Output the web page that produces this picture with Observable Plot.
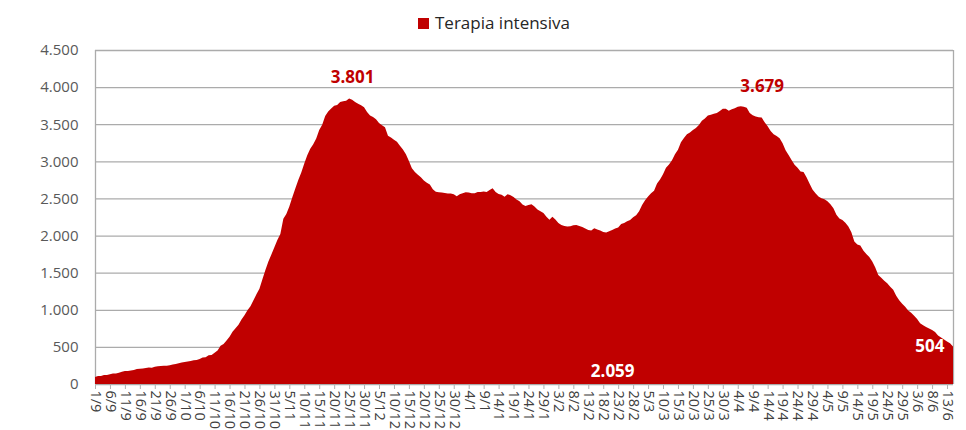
<!DOCTYPE html>
<html>
<head>
<meta charset="utf-8">
<script src="https://cdn.jsdelivr.net/npm/d3@7"></script>
<script src="https://cdn.jsdelivr.net/npm/@observablehq/plot@0.6"></script>
<style>
  html, body { margin: 0; padding: 0; background: #fff; overflow: hidden; }
  #legend { display: block; }
  #chart svg { display: block; }
</style>
</head>
<body>
<svg id="legend" width="966" height="40">
  <rect x="418" y="18" width="11" height="11" fill="#c00000"></rect>
  <text x="435" y="29" font-family="Open Sans" font-size="17" fill="#262626">Terapia intensiva</text>
</svg>
<div id="chart"></div>
<script>
// Terapia intensiva, daily values from 1/9/2020 to 15/6/2021
const sep = [94,107,109,120,121,133,142,143,150,164,175,174,182,187,201,207,208,215,222,220,232,239,244,246,247,254,264,271,280,291];
const oct = [297,303,309,319,323,337,358,362,387,390,420,452,514,539,586,638,705,750,797,870,926,992,1049,1128,1208,1284,1411,1536,1651,1746,1843];
const nov = [1939,2022,2225,2292,2391,2515,2634,2749,2849,2971,3081,3170,3230,3306,3422,3492,3612,3670,3712,3748,3758,3801,3810,3816,3848,3830,3800,3775,3755,3730];
const dec = [3663,3616,3597,3567,3517,3487,3458,3345,3320,3291,3265,3209,3158,3095,3003,2906,2855,2819,2784,2743,2713,2687,2624,2589,2584,2579,2573,2565,2565,2555,2528];
const jan = [2555,2569,2583,2579,2569,2571,2587,2587,2593,2587,2614,2636,2587,2560,2549,2522,2557,2544,2520,2487,2461,2418,2399,2411,2421,2391,2352,2329,2303,2252,2214];
const feb = [2252,2217,2170,2143,2128,2123,2126,2140,2143,2128,2114,2094,2074,2069,2100,2081,2067,2049,2040,2059,2075,2094,2110,2157,2168,2194,2210,2245];
const mar = [2275,2327,2411,2475,2525,2571,2605,2700,2756,2827,2914,2957,3013,3097,3157,3256,3316,3364,3389,3421,3448,3488,3546,3577,3616,3628,3640,3650,3679,3710,3710];
const apr = [3681,3703,3714,3737,3743,3737,3721,3650,3620,3603,3595,3589,3526,3474,3409,3366,3340,3311,3244,3151,3085,3017,2953,2912,2862,2855,2786,2700,2620,2570];
const may = [2525,2504,2490,2461,2423,2368,2280,2230,2209,2171,2123,2044,1920,1880,1866,1800,1750,1710,1650,1570,1470,1430,1390,1357,1310,1270,1190,1130,1080,1040,990];
const jun = [960,918,876,817,791,767,749,727,700,653,628,600,574,548,504];

const tickLabels = ["1/9","6/9","11/9","16/9","21/9","26/9","1/10","6/10","11/10","16/10","21/10","26/10","31/10",
  "5/11","10/11","15/11","20/11","25/11","30/11","5/12","10/12","15/12","20/12","25/12","30/12",
  "4/1","9/1","14/1","19/1","24/1","29/1","3/2","8/2","13/2","18/2","23/2","28/2",
  "5/3","10/3","15/3","20/3","25/3","30/3","4/4","9/4","14/4","19/4","24/4","29/4",
  "4/5","9/5","14/5","19/5","24/5","29/5","3/6","8/6","13/6"];

const yTicks = [0,500,1000,1500,2000,2500,3000,3500,4000,4500];

const peakLabels = [
  {day: 86, value: 3801, text: "3.801"},
  {day: 223, value: 3679, text: "3.679"}
];
const minLabel = [{day: 173, value: 2059, text: "2.059"}];
const lastLabel = [{day: 287, value: 504, text: "504"}];

const values = [...sep, ...oct, ...nov, ...dec, ...jan, ...feb, ...mar, ...apr, ...may, ...jun];
const data = values.map((v, i) => ({day: i, value: v}));
const tickDays = tickLabels.map((_, k) => k * 5);

const itLocale = d3.formatLocale({decimal: ",", thousands: ".", grouping: [3], currency: ["", "€"]});
const fmt = itLocale.format(",");

const chart = Plot.plot({
  width: 966,
  height: 394,
  marginLeft: 95,
  marginRight: 13,
  marginTop: 10,
  marginBottom: 50,
  style: {fontFamily: "Open Sans", background: "#fff", overflow: "visible"},
  x: {domain: [0, values.length - 1], label: null},
  y: {domain: [0, 4500], label: null},
  marks: [
    Plot.ruleY(yTicks, {stroke: "#ababab", strokeWidth: 1.3}),
    Plot.ruleX([0, values.length - 1], {stroke: "#ababab", strokeWidth: 1.3}),
    Plot.areaY(data, {x: "day", y: "value", fill: "#c00000"}),
    Plot.axisX({ticks: tickDays, tickSize: 5, tickFormat: () => "", stroke: "#b0b0b0", label: null}),
    Plot.axisX({ticks: tickDays, tickSize: 0, tickPadding: 6, tickRotate: 90,
      tickFormat: d => tickLabels[Math.round(d / 5)], fill: "#404040", fontSize: 14.5, label: null}),
    Plot.axisY({ticks: yTicks, tickSize: 0, tickPadding: 17, tickFormat: fmt,
      fill: "#595959", fontSize: 15, label: null}),
    Plot.text(peakLabels, {x: "day", y: "value", text: "text", dy: -25, fill: "#c00000",
      fontSize: 17, fontWeight: "bold"}),
    Plot.text(minLabel, {x: "day", y: 0, text: "text", dy: -13, fill: "#ffffff",
      fontSize: 17, fontWeight: "bold"}),
    Plot.text(lastLabel, {x: "day", y: "value", text: "text", dx: -9, dy: -1, textAnchor: "end",
      fill: "#ffffff", fontSize: 17, fontWeight: "bold"})
  ]
});
document.getElementById("chart").appendChild(chart);
</script>
</body>
</html>
